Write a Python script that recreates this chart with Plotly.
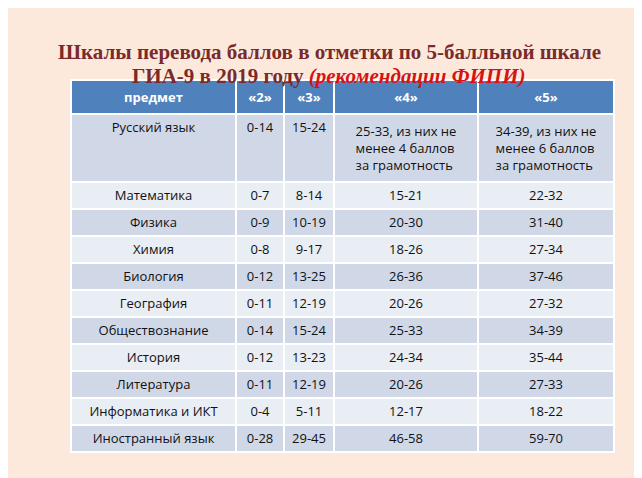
import plotly.graph_objects as go

headers = ["<b>предмет</b>", "<b>«2»</b>", "<b>«3»</b>", "<b>«4»</b>", "<b>«5»</b>"]
subjects = ["Русский язык", "Математика", "Физика", "Химия", "Биология", "География",
            "Обществознание", "История", "Литература", "Информатика и ИКТ", "Иностранный язык"]
grade2 = ["0-14", "0-7", "0-9", "0-8", "0-12", "0-11", "0-14", "0-12", "0-11", "0-4", "0-28"]
grade3 = ["15-24", "8-14", "10-19", "9-17", "13-25", "12-19", "15-24", "13-23", "12-19", "5-11", "29-45"]
grade4 = ["25-33, из них не<br>менее 4 баллов<br>за грамотность", "15-21", "20-30", "18-26", "26-36",
          "20-26", "25-33", "24-34", "20-26", "12-17", "46-58"]
grade5 = ["34-39, из них не<br>менее 6 баллов<br>за грамотность", "22-32", "31-40", "27-34", "37-46",
          "27-32", "34-39", "35-44", "27-33", "18-22", "59-70"]

dark, light = "#D0D8E8", "#E9EDF4"
fills = [dark if i % 2 == 0 else light for i in range(len(subjects))]

fig = go.Figure(go.Table(
    domain=dict(x=[63/642, 606/642], y=[0.03, 1-72/478]),
    columnwidth=[165, 48, 50, 144, 136],
    header=dict(values=headers, fill_color="#4F81BD", line=dict(color="white", width=1.5),
                font=dict(color="white", size=13, family="Open Sans"), align="center", height=28),
    cells=dict(values=[subjects, grade2, grade3, grade4, grade5],
               fill_color=[fills]*5, line=dict(color="white", width=1.5),
               font=dict(color="#111111", size=13, family="Open Sans"), align="center", height=27),
))
fig.update_layout(
    width=642, height=478, margin=dict(l=0, r=0, t=0, b=0),
    paper_bgcolor="#FCE9DC",
    annotations=[
        dict(x=0.5, y=1-30/478, xref="paper", yref="paper", showarrow=False,
             text="<b>Шкалы перевода баллов в отметки по 5-балльной шкале</b>",
             font=dict(family="Liberation Serif", size=21, color="#7A2A2A")),
        dict(x=0.5, y=1-54/478, xref="paper", yref="paper", showarrow=False,
             text="<b>ГИА-9 в 2019 году <i><span style='color:#D41414'>(рекомендации ФИПИ)</span></i></b>",
             font=dict(family="Liberation Serif", size=21, color="#7A2A2A")),
    ],
)
fig.write_html("out.html")
